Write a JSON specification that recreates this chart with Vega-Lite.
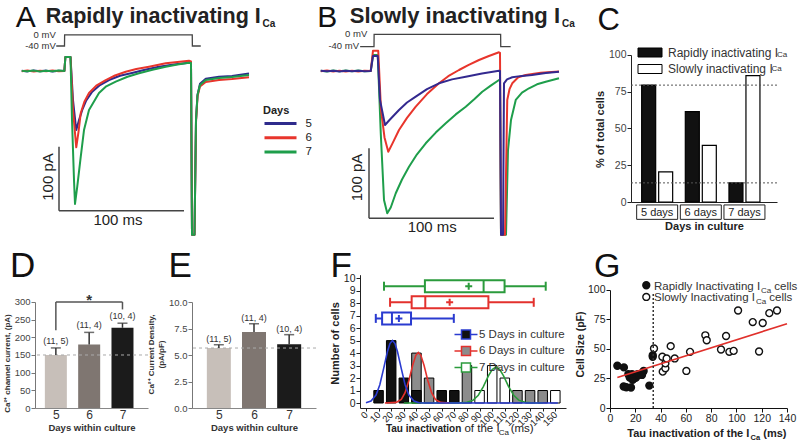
{
"$schema":"https://vega.github.io/schema/vega-lite/v6.json",
"background":"white",
"padding":{"left":3,"top":0,"right":0,"bottom":0},
"config":{"font":"Liberation Sans","view":{"stroke":null},"axis":{"grid":false,"labelOverlap":false,"labelFont":"Liberation Sans","titleFont":"Liberation Sans"},"legend":{"labelFont":"Liberation Sans","titleFont":"Liberation Sans"},"title":{"font":"Liberation Sans"},"text":{"font":"Liberation Sans"}},
"spacing":12,
"resolve":{"scale":{"fill":"independent","stroke":"independent","color":"independent","x":"independent","y":"independent"},"legend":{"fill":"independent","stroke":"independent"}},
"datasets":{
"tracesA":[
{"day":"5","t":-34.6,"i":0.5},{"day":"5","t":-30,"i":-0.6},{"day":"5","t":-25,"i":0.8},{"day":"5","t":-20,"i":-0.5},{"day":"5","t":-15,"i":0.6},{"day":"5","t":-10,"i":-0.7},{"day":"5","t":-5,"i":0.4},{"day":"5","t":-0.5,"i":0},{"day":"5","t":0.3,"i":21.9},{"day":"5","t":4.4,"i":21.9},
{"day":"5","t":6.4,"i":-45.3},{"day":"5","t":9.0,"i":-92.2},{"day":"5","t":11,"i":-78},{"day":"5","t":13.8,"i":-60.9},{"day":"5","t":17,"i":-46},{"day":"5","t":21.8,"i":-32.3},{"day":"5","t":28,"i":-22},{"day":"5","t":35.2,"i":-14.1},{"day":"5","t":44,"i":-7.5},{"day":"5","t":53.6,"i":-3.1},{"day":"5","t":64,"i":2},{"day":"5","t":75.2,"i":6.7},{"day":"5","t":87,"i":10},{"day":"5","t":99.2,"i":13},{"day":"5","t":100.8,"i":12.5},{"day":"5","t":101.6,"i":-256},{"day":"5","t":103.6,"i":-256},{"day":"5","t":104.8,"i":-76.6},{"day":"5","t":106,"i":-37.5},{"day":"5","t":108,"i":-20},{"day":"5","t":112.6,"i":-12},{"day":"5","t":123.2,"i":-9},{"day":"5","t":133.6,"i":-7.8},{"day":"5","t":147.2,"i":-3.9},
{"day":"6","t":-34.6,"i":-0.4},{"day":"6","t":-30,"i":0.7},{"day":"6","t":-25,"i":-0.6},{"day":"6","t":-20,"i":0.5},{"day":"6","t":-15,"i":-0.5},{"day":"6","t":-10,"i":0.6},{"day":"6","t":-5,"i":-0.4},{"day":"6","t":-0.5,"i":0},{"day":"6","t":0.3,"i":21.9},{"day":"6","t":4.4,"i":21.9},
{"day":"6","t":6.4,"i":-60.9},{"day":"6","t":9.0,"i":-119.2},{"day":"6","t":10.8,"i":-95},{"day":"6","t":12.6,"i":-65.6},{"day":"6","t":15.5,"i":-48},{"day":"6","t":19.2,"i":-34.4},{"day":"6","t":25,"i":-23},{"day":"6","t":32.6,"i":-14.1},{"day":"6","t":40,"i":-7},{"day":"6","t":48.6,"i":-1.1},{"day":"6","t":57,"i":3},{"day":"6","t":67.2,"i":6.7},{"day":"6","t":80.6,"i":12},{"day":"6","t":90,"i":14},{"day":"6","t":99.2,"i":16.1},{"day":"6","t":100.8,"i":15},{"day":"6","t":101.6,"i":-256},{"day":"6","t":103.6,"i":-256},{"day":"6","t":104.8,"i":-80},{"day":"6","t":106,"i":-40},{"day":"6","t":108,"i":-24},{"day":"6","t":112.6,"i":-17.2},{"day":"6","t":123.2,"i":-14},{"day":"6","t":133.6,"i":-12.5},{"day":"6","t":147.2,"i":-9.8},
{"day":"7","t":-34.6,"i":0.2},{"day":"7","t":-30,"i":-0.5},{"day":"7","t":-25,"i":0.6},{"day":"7","t":-20,"i":-0.7},{"day":"7","t":-15,"i":0.4},{"day":"7","t":-10,"i":-0.3},{"day":"7","t":-5,"i":0.6},{"day":"7","t":-0.5,"i":0},{"day":"7","t":0.3,"i":21.9},{"day":"7","t":4.4,"i":21.9},
{"day":"7","t":5.6,"i":-76.6},{"day":"7","t":7.2,"i":-170.3},{"day":"7","t":8.0,"i":-207.8},{"day":"7","t":9.8,"i":-180.8},{"day":"7","t":12.6,"i":-133.9},{"day":"7","t":15.2,"i":-92.2},{"day":"7","t":19.2,"i":-60.9},{"day":"7","t":27.2,"i":-34.4},{"day":"7","t":33,"i":-24},{"day":"7","t":40.6,"i":-16.7},{"day":"7","t":50,"i":-9},{"day":"7","t":59.2,"i":-3.6},{"day":"7","t":70,"i":2},{"day":"7","t":80.6,"i":6.7},{"day":"7","t":90,"i":10},{"day":"7","t":99.2,"i":13},{"day":"7","t":100.8,"i":12.5},{"day":"7","t":101.6,"i":-256},{"day":"7","t":103.6,"i":-256},{"day":"7","t":104.8,"i":-76.6},{"day":"7","t":106,"i":-37.5},{"day":"7","t":108,"i":-21.9},{"day":"7","t":112.6,"i":-14.1},{"day":"7","t":123.2,"i":-10.9},{"day":"7","t":133.6,"i":-9.4},{"day":"7","t":147.2,"i":-6.3}
],
"protA":[{"t":-7.0,"i":39.1},{"t":-0.4,"i":39.1},{"t":-0.3,"i":56.3},{"t":101.8,"i":56.3},{"t":101.9,"i":39.1},{"t":108.6,"i":39.1}],
"tracesB":[
{"day":"7","t":-41,"i":0.5},{"day":"7","t":-36,"i":-0.6},{"day":"7","t":-31,"i":0.7},{"day":"7","t":-26,"i":-0.5},{"day":"7","t":-21,"i":0.6},{"day":"7","t":-16,"i":-0.4},{"day":"7","t":-11,"i":0.6},{"day":"7","t":-6,"i":-0.5},{"day":"7","t":-1,"i":0},
{"day":"7","t":0.8,"i":22.9},{"day":"7","t":4.6,"i":22.9},{"day":"7","t":7,"i":-88.6},{"day":"7","t":9.6,"i":-184.3},{"day":"7","t":12.2,"i":-203.3},{"day":"7","t":15,"i":-195},{"day":"7","t":19,"i":-174.7},{"day":"7","t":24,"i":-155},{"day":"7","t":29.6,"i":-136.7},{"day":"7","t":36,"i":-119},{"day":"7","t":43,"i":-103.3},{"day":"7","t":51,"i":-88},{"day":"7","t":59,"i":-74.7},{"day":"7","t":67,"i":-62},{"day":"7","t":75,"i":-51},{"day":"7","t":82,"i":-40},{"day":"7","t":88.2,"i":-29.6},{"day":"7","t":95,"i":-21},{"day":"7","t":101.6,"i":-12.9},{"day":"7","t":102.4,"i":-12},{"day":"7","t":103.2,"i":-234},{"day":"7","t":107.2,"i":-234},{"day":"7","t":108.8,"i":-113},{"day":"7","t":111.2,"i":-70},{"day":"7","t":115,"i":-41.4},{"day":"7","t":120,"i":-31},{"day":"7","t":125.6,"i":-24.7},{"day":"7","t":132,"i":-19},{"day":"7","t":139,"i":-15.3},{"day":"7","t":149.6,"i":-10.4},
{"day":"6","t":-41,"i":-0.5},{"day":"6","t":-36,"i":0.6},{"day":"6","t":-31,"i":-0.7},{"day":"6","t":-26,"i":0.5},{"day":"6","t":-21,"i":-0.6},{"day":"6","t":-16,"i":0.4},{"day":"6","t":-11,"i":-0.6},{"day":"6","t":-6,"i":0.5},{"day":"6","t":-1,"i":0},
{"day":"6","t":0.8,"i":29},{"day":"6","t":5,"i":29},{"day":"6","t":7.2,"i":-55.7},{"day":"6","t":10,"i":-95},{"day":"6","t":13,"i":-115.3},{"day":"6","t":16.5,"i":-103},{"day":"6","t":21.6,"i":-84.3},{"day":"6","t":28,"i":-67},{"day":"6","t":35,"i":-51},{"day":"6","t":44,"i":-33},{"day":"6","t":53.6,"i":-17.6},{"day":"6","t":61,"i":-7.5},{"day":"6","t":69.6,"i":1.4},{"day":"6","t":77,"i":8.5},{"day":"6","t":85.6,"i":15.7},{"day":"6","t":93,"i":21},{"day":"6","t":101.6,"i":26.7},{"day":"6","t":102.4,"i":26},{"day":"6","t":103.2,"i":-234},{"day":"6","t":106.4,"i":-234},{"day":"6","t":108.2,"i":-41.4},{"day":"6","t":110,"i":-26},{"day":"6","t":112.2,"i":-17.6},{"day":"6","t":117,"i":-9},{"day":"6","t":123,"i":-5.7},{"day":"6","t":135,"i":-2.5},{"day":"6","t":149.6,"i":-0.7},
{"day":"5","t":-41,"i":0.2},{"day":"5","t":-36,"i":-0.4},{"day":"5","t":-31,"i":0.5},{"day":"5","t":-26,"i":-0.6},{"day":"5","t":-21,"i":0.4},{"day":"5","t":-16,"i":-0.5},{"day":"5","t":-11,"i":0.4},{"day":"5","t":-6,"i":-0.3},{"day":"5","t":-1,"i":0},
{"day":"5","t":0.8,"i":21.4},{"day":"5","t":4.6,"i":21.4},{"day":"5","t":6.4,"i":-41.4},{"day":"5","t":10.4,"i":-77.1},{"day":"5","t":14,"i":-70},{"day":"5","t":21.6,"i":-55.7},{"day":"5","t":28,"i":-45},{"day":"5","t":35,"i":-36.7},{"day":"5","t":44,"i":-26},{"day":"5","t":53.6,"i":-17.6},{"day":"5","t":64,"i":-12},{"day":"5","t":75,"i":-8.1},{"day":"5","t":88,"i":-3.5},{"day":"5","t":101.6,"i":0.4},{"day":"5","t":102.4,"i":0},{"day":"5","t":103.2,"i":-234},{"day":"5","t":104.8,"i":-234},{"day":"5","t":105.6,"i":-17.6},{"day":"5","t":108,"i":-12},{"day":"5","t":112.2,"i":-9},{"day":"5","t":120,"i":-7},{"day":"5","t":128,"i":-5.7},{"day":"5","t":139,"i":-3},{"day":"5","t":149.6,"i":-1}
],
"protB":[{"t":-9.5,"i":34.7},{"t":1.6,"i":34.7},{"t":1.7,"i":52.4},{"t":102.9,"i":52.4},{"t":103.0,"i":34.7},{"t":110.9,"i":34.7}],
"pctC":[{"day":"5 days","type":"Rapidly inactivating","pct":79.5},{"day":"5 days","type":"Slowly inactivating","pct":20.5},{"day":"6 days","type":"Rapidly inactivating","pct":61.5},{"day":"6 days","type":"Slowly inactivating","pct":38.5},{"day":"7 days","type":"Rapidly inactivating","pct":13},{"day":"7 days","type":"Slowly inactivating","pct":86}],
"daysC":[{"day":"5 days"},{"day":"6 days"},{"day":"7 days"}],
"curD":[{"day":5,"mean":150,"upper":170,"n":"(11, 5)"},{"day":6,"mean":180,"upper":214,"n":"(11, 4)"},{"day":7,"mean":227,"upper":240,"n":"(10, 4)"}],
"denE":[{"day":5,"mean":5.66,"upper":5.97,"n":"(11, 5)"},{"day":6,"mean":7.17,"upper":7.95,"n":"(11, 4)"},{"day":7,"mean":6.01,"upper":6.92,"n":"(10, 4)"}],
"histF":[
{"group":"6 Days in culture","tau":40,"n":4},{"group":"6 Days in culture","tau":50,"n":2},{"group":"6 Days in culture","tau":80,"n":3},{"group":"6 Days in culture","tau":120,"n":1},{"group":"6 Days in culture","tau":130,"n":1},{"group":"6 Days in culture","tau":140,"n":1},
{"group":"7 Days in culture","tau":90,"n":1},{"group":"7 Days in culture","tau":100,"n":3},{"group":"7 Days in culture","tau":110,"n":2},{"group":"7 Days in culture","tau":150,"n":1},
{"group":"5 Days in culture","tau":10,"n":1},{"group":"5 Days in culture","tau":20,"n":5},{"group":"5 Days in culture","tau":30,"n":2},{"group":"5 Days in culture","tau":40,"n":1},{"group":"5 Days in culture","tau":60,"n":1},{"group":"5 Days in culture","tau":70,"n":1}
],
"gaussF":[
{"group":"7 Days in culture","tau":30,"n":0},{"group":"7 Days in culture","tau":70,"n":0},{"group":"7 Days in culture","tau":75,"n":0.01},{"group":"7 Days in culture","tau":80,"n":0.05},{"group":"7 Days in culture","tau":85,"n":0.23},{"group":"7 Days in culture","tau":89,"n":0.62},{"group":"7 Days in culture","tau":93,"n":1.32},{"group":"7 Days in culture","tau":97,"n":2.17},{"group":"7 Days in culture","tau":100,"n":2.68},{"group":"7 Days in culture","tau":103,"n":2.88},{"group":"7 Days in culture","tau":106,"n":2.68},{"group":"7 Days in culture","tau":109,"n":2.17},{"group":"7 Days in culture","tau":113,"n":1.32},{"group":"7 Days in culture","tau":117,"n":0.62},{"group":"7 Days in culture","tau":121,"n":0.23},{"group":"7 Days in culture","tau":126,"n":0.05},{"group":"7 Days in culture","tau":131,"n":0.01},{"group":"7 Days in culture","tau":140,"n":0},
{"group":"6 Days in culture","tau":15,"n":0},{"group":"6 Days in culture","tau":24,"n":0.05},{"group":"6 Days in culture","tau":28,"n":0.29},{"group":"6 Days in culture","tau":31,"n":0.83},{"group":"6 Days in culture","tau":34,"n":1.8},{"group":"6 Days in culture","tau":37,"n":3.03},{"group":"6 Days in culture","tau":39.5,"n":3.82},{"group":"6 Days in culture","tau":41.5,"n":4.05},{"group":"6 Days in culture","tau":43.5,"n":3.82},{"group":"6 Days in culture","tau":46,"n":3.03},{"group":"6 Days in culture","tau":49,"n":1.8},{"group":"6 Days in culture","tau":52,"n":0.83},{"group":"6 Days in culture","tau":55,"n":0.29},{"group":"6 Days in culture","tau":59,"n":0.05},{"group":"6 Days in culture","tau":66,"n":0},
{"group":"5 Days in culture","tau":0,"n":0.02},{"group":"5 Days in culture","tau":4,"n":0.15},{"group":"5 Days in culture","tau":8,"n":0.64},{"group":"5 Days in culture","tau":11,"n":1.47},{"group":"5 Days in culture","tau":14,"n":2.75},{"group":"5 Days in culture","tau":17,"n":4.11},{"group":"5 Days in culture","tau":19,"n":4.76},{"group":"5 Days in culture","tau":21,"n":5},{"group":"5 Days in culture","tau":23,"n":4.76},{"group":"5 Days in culture","tau":25,"n":4.11},{"group":"5 Days in culture","tau":28,"n":2.75},{"group":"5 Days in culture","tau":31,"n":1.47},{"group":"5 Days in culture","tau":34,"n":0.64},{"group":"5 Days in culture","tau":38,"n":0.15},{"group":"5 Days in culture","tau":42,"n":0.02},{"group":"5 Days in culture","tau":46,"n":0},{"group":"5 Days in culture","tau":152,"n":0}
],
"boxF":[
{"group":"7 Days in culture","lo":14.3,"q1":46.7,"med":93.2,"q3":109.8,"hi":142.4,"mean":81.4,"row":9.36},
{"group":"6 Days in culture","lo":19.1,"q1":36.2,"med":47,"q3":97,"hi":132.9,"mean":66.3,"row":8.07},
{"group":"5 Days in culture","lo":7.8,"q1":12.8,"med":20.6,"q3":35.7,"hi":69.6,"mean":26.1,"row":6.78}
],
"pointsG":[
{"type":"Rapidly","tau":5.8,"size":35.8},{"type":"Rapidly","tau":11,"size":34.4},{"type":"Rapidly","tau":10.8,"size":18.2},{"type":"Rapidly","tau":12.9,"size":17.6},{"type":"Rapidly","tau":14.5,"size":28.6},{"type":"Rapidly","tau":15.6,"size":25.8},{"type":"Rapidly","tau":16.6,"size":17.4},{"type":"Rapidly","tau":17.4,"size":28.6},{"type":"Rapidly","tau":17.9,"size":26.6},{"type":"Rapidly","tau":19.2,"size":25.2},{"type":"Rapidly","tau":19.8,"size":28},{"type":"Rapidly","tau":20.6,"size":25.8},{"type":"Rapidly","tau":21.9,"size":28.6},{"type":"Rapidly","tau":17.9,"size":23.8},{"type":"Rapidly","tau":25.8,"size":30},{"type":"Rapidly","tau":25.3,"size":28},{"type":"Rapidly","tau":26.6,"size":31.4},{"type":"Rapidly","tau":31.1,"size":19},{"type":"Rapidly","tau":33.8,"size":43.4},{"type":"Rapidly","tau":33.8,"size":44.8},
{"type":"Slowly","tau":34.8,"size":50.4},{"type":"Slowly","tau":41.4,"size":43.4},{"type":"Slowly","tau":41.7,"size":30.8},{"type":"Slowly","tau":43.8,"size":33.6},{"type":"Slowly","tau":43.8,"size":37.8},{"type":"Slowly","tau":44.8,"size":42},{"type":"Slowly","tau":48,"size":52.4},{"type":"Slowly","tau":51.2,"size":42},{"type":"Slowly","tau":60.4,"size":31.4},{"type":"Slowly","tau":63.3,"size":47.6},{"type":"Slowly","tau":75.4,"size":61.6},{"type":"Slowly","tau":76.5,"size":57.4},{"type":"Slowly","tau":87.8,"size":49.6},{"type":"Slowly","tau":91.8,"size":61},{"type":"Slowly","tau":94.4,"size":47.6},{"type":"Slowly","tau":97.8,"size":48.4},{"type":"Slowly","tau":101.3,"size":82.6},{"type":"Slowly","tau":112.9,"size":72.8},{"type":"Slowly","tau":117.9,"size":47.9},{"type":"Slowly","tau":120.8,"size":72},{"type":"Slowly","tau":126,"size":80.4},{"type":"Slowly","tau":132.1,"size":82.6}
],
"fitG":[{"tau":5.8,"size":25.8},{"tau":140,"size":71.4}]
},
"vconcat":[
{"hconcat":[
{"width":271,"height":235,"data":{"values":[{}]},
"layer":[
{"data":{"name":"tracesA"},"mark":{"type":"line","strokeWidth":2,"strokeJoin":"round"},
"encoding":{"x":{"field":"t","type":"quantitative","scale":{"domain":[-24,192.8],"nice":false,"zero":false},"axis":null},
"y":{"field":"i","type":"quantitative","scale":{"domain":[-256.25,110.94],"nice":false,"zero":false},"axis":null},
"stroke":{"field":"day","type":"nominal","scale":{"domain":["5","6","7"],"range":["#2f2b8c","#e8352c","#1e9e4b"]},"legend":{"title":"Days","orient":"none","legendX":228,"legendY":105,"symbolType":"M-1,0H5.4","symbolSize":100,"symbolStrokeWidth":3,"labelFontSize":11.5,"labelOffset":29.5,"titleFontSize":11,"titleFontWeight":"bold","titlePadding":1,"rowPadding":1.3,"labelColor":"#222","titleColor":"#222"}}}},
{"data":{"name":"protA"},"mark":{"type":"line","color":"#444","strokeWidth":1.3},"encoding":{"x":{"field":"t","type":"quantitative","axis":null},"y":{"field":"i","type":"quantitative","axis":null}}},
{"mark":{"type":"rule","color":"#444","strokeWidth":1.5},"encoding":{"x":{"datum":-4.8,"axis":null},"y":{"datum":-118.3,"axis":null},"y2":{"datum":-218.3}}},
{"mark":{"type":"rule","color":"#444","strokeWidth":1.5},"encoding":{"x":{"datum":-4.8,"axis":null},"x2":{"datum":95.2},"y":{"datum":-218.3,"axis":null}}},
{"mark":{"type":"text","text":"A","fontSize":30,"align":"left","baseline":"alphabetic","color":"#111"},"encoding":{"x":{"datum":-39.4,"axis":null},"y":{"datum":69.5,"axis":null}}},
{"mark":{"type":"text","text":"Rapidly inactivating I","fontSize":21.5,"fontWeight":"bold","align":"left","baseline":"alphabetic","color":"#222"},"encoding":{"x":{"datum":-15.4,"axis":null},"y":{"datum":74.5,"axis":null}}},
{"mark":{"type":"text","text":"Ca","fontSize":10,"fontWeight":"bold","align":"left","baseline":"alphabetic","color":"#222"},"encoding":{"x":{"datum":158,"axis":null},"y":{"datum":68.75,"axis":null}}},
{"mark":{"type":"text","text":"0 mV","fontSize":9.5,"align":"right","baseline":"alphabetic","color":"#333"},"encoding":{"x":{"datum":-7.4,"axis":null},"y":{"datum":51.6,"axis":null}}},
{"mark":{"type":"text","text":"-40 mV","fontSize":9.5,"align":"right","baseline":"alphabetic","color":"#333"},"encoding":{"x":{"datum":-7.4,"axis":null},"y":{"datum":34.4,"axis":null}}},
{"mark":{"type":"text","text":"100 pA","fontSize":15,"angle":270,"align":"center","baseline":"middle","color":"#222"},"encoding":{"x":{"datum":-13.6,"axis":null},"y":{"datum":-165.6,"axis":null}}},
{"mark":{"type":"text","text":"100 ms","fontSize":15,"align":"center","baseline":"middle","color":"#222"},"encoding":{"x":{"datum":42.4,"axis":null},"y":{"datum":-232.8,"axis":null}}}
]},
{"width":305,"height":235,"data":{"values":[{}]},
"layer":[
{"data":{"name":"tracesB"},"mark":{"type":"line","strokeWidth":2,"strokeJoin":"round"},
"encoding":{"x":{"field":"t","type":"quantitative","scale":{"domain":[-44.8,199.2],"nice":false,"zero":false},"axis":null},
"y":{"field":"i","type":"quantitative","scale":{"domain":[-234.3,101.4],"nice":false,"zero":false},"axis":null},
"stroke":{"field":"day","type":"nominal","scale":{"domain":["5","6","7"],"range":["#33298f","#e8352c","#1e9e4b"]},"legend":null}}},
{"data":{"name":"protB"},"mark":{"type":"line","color":"#444","strokeWidth":1.3},"encoding":{"x":{"field":"t","type":"quantitative","axis":null},"y":{"field":"i","type":"quantitative","axis":null}}},
{"mark":{"type":"rule","color":"#444","strokeWidth":1.5},"encoding":{"x":{"datum":-2.4,"axis":null},"y":{"datum":-110.4,"axis":null},"y2":{"datum":-210.4}}},
{"mark":{"type":"rule","color":"#444","strokeWidth":1.5},"encoding":{"x":{"datum":-2.4,"axis":null},"x2":{"datum":97.6},"y":{"datum":-210.4,"axis":null}}},
{"mark":{"type":"text","text":"B","fontSize":30,"align":"left","baseline":"alphabetic","color":"#111"},"encoding":{"x":{"datum":-43.8,"axis":null},"y":{"datum":63.4,"axis":null}}},
{"mark":{"type":"text","text":"Slowly inactivating I","fontSize":22,"fontWeight":"bold","align":"left","baseline":"alphabetic","color":"#222"},"encoding":{"x":{"datum":-17.8,"axis":null},"y":{"datum":68.1,"axis":null}}},
{"mark":{"type":"text","text":"Ca","fontSize":10,"fontWeight":"bold","align":"left","baseline":"alphabetic","color":"#222"},"encoding":{"x":{"datum":152,"axis":null},"y":{"datum":62.9,"axis":null}}},
{"mark":{"type":"text","text":"0 mV","fontSize":9.5,"align":"right","baseline":"alphabetic","color":"#333"},"encoding":{"x":{"datum":-3.8,"axis":null},"y":{"datum":48.1,"axis":null}}},
{"mark":{"type":"text","text":"-40 mV","fontSize":9.5,"align":"right","baseline":"alphabetic","color":"#333"},"encoding":{"x":{"datum":-10.4,"axis":null},"y":{"datum":31.4,"axis":null}}},
{"mark":{"type":"text","text":"100 pA","fontSize":15,"angle":270,"align":"center","baseline":"middle","color":"#222"},"encoding":{"x":{"datum":-12,"axis":null},"y":{"datum":-152.1,"axis":null}}},
{"mark":{"type":"text","text":"100 ms","fontSize":15,"align":"center","baseline":"middle","color":"#222"},"encoding":{"x":{"datum":48.2,"axis":null},"y":{"datum":-222.9,"axis":null}}}
]},
{"width":146,"height":202,"data":{"values":[{}]},
"layer":[
{"data":{"name":"pctC"},"mark":{"type":"bar","stroke":"#000","strokeWidth":1.2},
"encoding":{"x":{"field":"day","type":"nominal","scale":{"domain":["5 days","6 days","7 days"],"paddingInner":0.061,"paddingOuter":0.203,"align":0.32},"axis":{"title":"Days in culture","titleFontSize":11,"titleFontWeight":"bold","titleColor":"#222","titlePadding":3,"labelFontSize":11,"labelAngle":0,"labelColor":"#222","labelPadding":4.5,"labelOverlap":false,"ticks":false,"tickSize":0,"domainColor":"#222"}},
"xOffset":{"field":"type","type":"nominal","scale":{"domain":["Rapidly inactivating","Slowly inactivating"],"paddingInner":0.176,"paddingOuter":0.294}},
"y":{"field":"pct","type":"quantitative","scale":{"domain":[0,137.4],"nice":false,"zero":false},"axis":{"values":[0,25,50,75,100],"tickCount":30,"title":"% of total cells","titleFontSize":11,"titleFontWeight":"bold","titleColor":"#222","titleY":129,"titlePadding":3,"labelFontSize":10.5,"labelColor":"#444","labelPadding":1,"labelOverlap":false,"labelBound":false,"tickSize":4,"tickColor":"#222","domainColor":"#222","domainDash":[147,1000]}},
"fill":{"field":"type","type":"nominal","scale":{"domain":["Rapidly inactivating","Slowly inactivating"],"range":["#111111","#ffffff"]},"legend":{"title":null,"orient":"none","legendX":13,"legendY":46.5,"symbolType":"M-2.4,-0.9H2.4V0.9H-2.4Z","symbolSize":100,"symbolStrokeColor":"#000","symbolStrokeWidth":1,"labelFontSize":12,"labelOffset":12,"rowPadding":2.5,"labelExpr":"datum.label + ' I'","labelColor":"#333"}}}},
{"data":{"values":[{"ref":79.5},{"ref":13}]},"mark":{"type":"rule","strokeDash":[2,2],"color":"#555","strokeWidth":1},"encoding":{"y":{"field":"ref","type":"quantitative"}}},
{"data":{"name":"daysC"},"mark":{"type":"rect","filled":false,"color":"#222","strokeWidth":1},"encoding":{"x":{"field":"day","type":"nominal"},"y":{"datum":-2},"y2":{"datum":-11.8}}},
{"mark":{"type":"text","text":"Ca","fontSize":8,"align":"left","baseline":"alphabetic","dx":12,"color":"#333"},"encoding":{"x":{"datum":"7 days","bandPosition":1},"y":{"datum":98.6}}},
{"mark":{"type":"text","text":"Ca","fontSize":8,"align":"left","baseline":"alphabetic","dx":6.5,"color":"#333"},"encoding":{"x":{"datum":"7 days","bandPosition":1},"y":{"datum":88.8}}},
{"mark":{"type":"text","text":"C","fontSize":31,"align":"left","baseline":"alphabetic","dx":-39.2,"color":"#111"},"encoding":{"x":{"datum":"5 days","bandPosition":0},"y":{"datum":116.9}}}
]}
],"spacing":10,"bounds":"flush","resolve":{"scale":{"fill":"independent","stroke":"independent","color":"independent","x":"independent","y":"independent"},"legend":{"fill":"independent","stroke":"independent"}}},
{"hconcat":[
{"width":113,"height":156,"data":{"name":"curD"},
"layer":[
{"mark":{"type":"bar","orient":"vertical","width":22},"encoding":{
"x":{"field":"day","type":"quantitative","scale":{"domain":[4.524,7.616],"nice":false,"zero":false},"axis":{"values":[5,6,7],"tickCount":30,"format":"d","title":"Days within culture","titleFontSize":9.5,"titleFontWeight":"bold","titleColor":"#333","titlePadding":2.5,"labelFontSize":12,"labelAngle":0,"labelColor":"#333","labelPadding":1,"labelOverlap":false,"labelBound":false,"labelFlush":false,"ticks":false,"tickSize":0,"domainColor":"#888"}},
"y":{"field":"mean","type":"quantitative","scale":{"domain":[0,441.5],"nice":false,"zero":false},"axis":{"values":[0,50,100,150,200,250,300],"tickCount":30,"format":"d","title":"Ca²⁺ channel current, (pA)","titleFontSize":8,"titleFontWeight":"bold","titleColor":"#333","titleY":111,"titlePadding":3,"labelFontSize":9.5,"labelColor":"#444","labelPadding":1,"labelOverlap":false,"labelBound":false,"labelFlush":false,"tickSize":4,"tickColor":"#777","domainColor":"#777","domainDash":[106,1000]}},
"fill":{"field":"day","type":"nominal","scale":{"domain":[5,6,7],"range":["#c7bfb9","#7f7671","#1b1b1b"]},"legend":null}}},
{"data":{"values":[{}]},"mark":{"type":"rule","strokeDash":[3,3],"color":"#aaaaaa","strokeWidth":1},"encoding":{"y":{"datum":150}}},
{"mark":{"type":"rule","color":"#333","strokeWidth":1.5},"encoding":{"x":{"field":"day","type":"quantitative"},"y":{"field":"mean","type":"quantitative"},"y2":{"field":"upper"}}},
{"mark":{"type":"tick","color":"#333","size":10,"thickness":1.5,"orient":"horizontal"},"encoding":{"x":{"field":"day","type":"quantitative"},"y":{"field":"upper","type":"quantitative"}}},
{"mark":{"type":"text","fontSize":9,"baseline":"bottom","dy":-2,"color":"#333"},"encoding":{"x":{"field":"day","type":"quantitative"},"y":{"field":"upper","type":"quantitative"},"text":{"field":"n"}}},
{"data":{"values":[{}]},"mark":{"type":"rule","color":"#555","strokeWidth":1.5},"encoding":{"x":{"datum":5},"x2":{"datum":7},"y":{"datum":300}}},
{"data":{"values":[{}]},"mark":{"type":"rule","color":"#555","strokeWidth":1.5},"encoding":{"x":{"datum":5},"y":{"datum":220},"y2":{"datum":300}}},
{"data":{"values":[{}]},"mark":{"type":"rule","color":"#555","strokeWidth":1.5},"encoding":{"x":{"datum":7},"y":{"datum":279},"y2":{"datum":300}}},
{"data":{"values":[{}]},"mark":{"type":"text","text":"*","fontSize":15,"fontWeight":"bold","color":"#333","baseline":"alphabetic","dy":3},"encoding":{"x":{"datum":6},"y":{"datum":300}}},
{"data":{"values":[{}]},"mark":{"type":"text","text":"D","fontSize":35,"align":"left","baseline":"alphabetic","color":"#111"},"encoding":{"x":{"datum":3.62},"y":{"datum":370.8}}}
]},
{"width":124,"height":156,"data":{"name":"denE"},
"layer":[
{"mark":{"type":"bar","orient":"vertical","width":24},"encoding":{
"x":{"field":"day","type":"quantitative","scale":{"domain":[4.379,7.621],"nice":false,"zero":false},"axis":{"values":[5,6,7],"tickCount":30,"format":"d","title":"Days within culture","titleFontSize":9.5,"titleFontWeight":"bold","titleColor":"#333","titlePadding":2.5,"labelFontSize":12,"labelAngle":0,"labelColor":"#333","labelPadding":1,"labelOverlap":false,"labelBound":false,"labelFlush":false,"ticks":false,"tickSize":0,"domainColor":"#888"}},
"y":{"field":"mean","type":"quantitative","scale":{"domain":[0,14.72],"nice":false,"zero":false},"axis":{"values":[0,2.5,5,7.5,10],"tickCount":30,"format":".1f","title":["Ca²⁺ Current Density,","(pA/pF)"],"titleFontSize":8,"titleFontWeight":"bold","titleColor":"#333","titleY":102,"titlePadding":3,"labelFontSize":9.5,"labelColor":"#444","labelPadding":1,"labelOverlap":false,"labelBound":false,"labelFlush":false,"tickSize":4,"tickColor":"#777","domainColor":"#777","domainDash":[106,1000]}},
"fill":{"field":"day","type":"nominal","scale":{"domain":[5,6,7],"range":["#c7bfb9","#7f7671","#1b1b1b"]},"legend":null}}},
{"data":{"values":[{}]},"mark":{"type":"rule","strokeDash":[3,3],"color":"#aaaaaa","strokeWidth":1},"encoding":{"y":{"datum":5.66}}},
{"mark":{"type":"rule","color":"#333","strokeWidth":1.5},"encoding":{"x":{"field":"day","type":"quantitative"},"y":{"field":"mean","type":"quantitative"},"y2":{"field":"upper"}}},
{"mark":{"type":"tick","color":"#333","size":10,"thickness":1.5,"orient":"horizontal"},"encoding":{"x":{"field":"day","type":"quantitative"},"y":{"field":"upper","type":"quantitative"}}},
{"mark":{"type":"text","fontSize":9,"baseline":"bottom","dy":-1,"color":"#333"},"encoding":{"x":{"field":"day","type":"quantitative"},"y":{"field":"upper","type":"quantitative"},"text":{"field":"n"}}},
{"data":{"values":[{}]},"mark":{"type":"text","text":"E","fontSize":35,"align":"left","baseline":"alphabetic","color":"#111"},"encoding":{"x":{"datum":3.569},"y":{"datum":12.36}}}
]},
{"width":206,"height":156,"data":{"values":[{}]},
"layer":[
{"data":{"name":"histF"},"mark":{"type":"bar","orient":"vertical","stroke":"#000","strokeWidth":1,"width":9.5},
"encoding":{"x":{"field":"tau","type":"quantitative","scale":{"domain":[-0.75,154.5],"nice":false,"zero":false},"axis":{"values":[0,10,20,30,40,50,60,70,80,90,100,110,120,130,140,150],"tickCount":30,"format":"d","labelAngle":-45,"labelAlign":"right","labelBaseline":"middle","labelFontSize":9.5,"labelColor":"#222","labelPadding":2,"labelOverlap":false,"labelBound":false,"labelFlush":false,"tickSize":3,"title":null,"domainColor":"#222","tickColor":"#222"}},
"y":{"field":"n","type":"quantitative","stack":null,"scale":{"domain":[0,11.7],"nice":false,"zero":false},"axis":{"values":[0,1,2,3,4,5,6,7,8,9,10],"tickCount":30,"format":"d","title":"Number of cells","titleFontSize":11,"titleFontWeight":"bold","titleColor":"#222","titleY":91,"titlePadding":3,"labelFontSize":10.5,"labelColor":"#222","labelPadding":1,"labelOverlap":false,"labelBound":false,"labelFlush":false,"tickSize":4,"tickColor":"#222","domainColor":"#222","domainDash":[133.3,1000]}},
"fill":{"field":"group","type":"nominal","scale":{"domain":["5 Days in culture","6 Days in culture","7 Days in culture"],"range":["#111111","#8c8c8c","#ffffff"]},"legend":{"title":null,"orient":"none","legendX":100,"legendY":76.5,"symbolType":"M-2.3,0H-0.9M0.9,0H2.3M-0.9,-0.9H0.9V0.9H-0.9Z","symbolSize":100,"symbolStrokeWidth":1.5,"labelFontSize":11.5,"labelOffset":7,"rowPadding":0.5,"labelColor":"#333"}}}},
{"data":{"name":"gaussF"},"mark":{"type":"line","strokeWidth":1.6},"encoding":{"x":{"field":"tau","type":"quantitative"},"y":{"field":"n","type":"quantitative"},"stroke":{"field":"group","type":"nominal","scale":{"domain":["5 Days in culture","6 Days in culture","7 Days in culture"],"range":["#2a3bd0","#e3312d","#2b9b3c"]},"legend":{"title":null,"orient":"none","legendX":100,"legendY":76.5,"symbolType":"M-2.3,0H-0.9M0.9,0H2.3M-0.9,-0.9H0.9V0.9H-0.9Z","symbolSize":100,"symbolStrokeWidth":1.5,"labelFontSize":11.5,"labelOffset":7,"rowPadding":0.5,"labelColor":"#333"}}}},
{"data":{"name":"boxF"},"mark":{"type":"rule","strokeWidth":2},"encoding":{"x":{"field":"lo","type":"quantitative"},"x2":{"field":"hi"},"y":{"field":"row","type":"quantitative"},"stroke":{"field":"group","type":"nominal"}}},
{"data":{"name":"boxF"},"mark":{"type":"point","shape":"M0,-1V1","size":81,"strokeWidth":2,"filled":false,"opacity":1},"encoding":{"x":{"field":"lo","type":"quantitative"},"y":{"field":"row","type":"quantitative"},"stroke":{"field":"group","type":"nominal"}}},
{"data":{"name":"boxF"},"mark":{"type":"point","shape":"M0,-1V1","size":81,"strokeWidth":2,"filled":false,"opacity":1},"encoding":{"x":{"field":"hi","type":"quantitative"},"y":{"field":"row","type":"quantitative"},"stroke":{"field":"group","type":"nominal"}}},
{"data":{"name":"boxF"},"mark":{"type":"bar","orient":"horizontal","height":12,"fill":"#ffffff","strokeWidth":2},"encoding":{"x":{"field":"q1","type":"quantitative"},"x2":{"field":"q3"},"y":{"field":"row","type":"quantitative"},"stroke":{"field":"group","type":"nominal"}}},
{"data":{"name":"boxF"},"mark":{"type":"point","shape":"M0,-1V1","size":144,"strokeWidth":2,"filled":false,"opacity":1},"encoding":{"x":{"field":"med","type":"quantitative"},"y":{"field":"row","type":"quantitative"},"stroke":{"field":"group","type":"nominal"}}},
{"data":{"name":"boxF"},"mark":{"type":"point","shape":"M-1,0H1M0,-1V1","size":49,"strokeWidth":2,"filled":false,"opacity":1},"encoding":{"x":{"field":"mean","type":"quantitative"},"y":{"field":"row","type":"quantitative"},"stroke":{"field":"group","type":"nominal"}}},
{"mark":{"type":"text","text":"Tau inactivation","fontSize":10,"fontWeight":"bold","align":"left","baseline":"alphabetic","color":"#222"},"encoding":{"x":{"datum":15.8},"y":{"datum":-2.33}}},
{"mark":{"type":"text","text":"of the I","fontSize":11.5,"align":"left","baseline":"alphabetic","color":"#222"},"encoding":{"x":{"datum":78},"y":{"datum":-2.33}}},
{"mark":{"type":"text","text":"Ca","fontSize":8,"align":"left","baseline":"alphabetic","color":"#222"},"encoding":{"x":{"datum":105.1},"y":{"datum":-2.56}}},
{"mark":{"type":"text","text":"(ms)","fontSize":11.5,"align":"left","baseline":"alphabetic","color":"#222"},"encoding":{"x":{"datum":114.6},"y":{"datum":-2.33}}},
{"mark":{"type":"text","text":"F","fontSize":35,"align":"left","baseline":"alphabetic","color":"#111"},"encoding":{"x":{"datum":-28},"y":{"datum":10.1}}}
]},
{"width":177,"height":156,"data":{"values":[{}]},
"layer":[
{"data":{"name":"pointsG"},"mark":{"type":"point","shape":"circle","size":48,"filled":true,"stroke":"#111","strokeWidth":1.4,"opacity":1},
"encoding":{"x":{"field":"tau","type":"quantitative","scale":{"domain":[0,140],"nice":false,"zero":false},"axis":{"values":[0,20,40,60,80,100,120,140],"tickCount":30,"format":"d","title":null,"labelFontSize":10.5,"labelColor":"#222","tickSize":4,"labelPadding":1,"labelOverlap":false,"labelBound":false,"labelFlush":false,"domainColor":"#111","tickColor":"#111"}},
"y":{"field":"size","type":"quantitative","scale":{"domain":[0,132.2],"nice":false,"zero":false},"axis":{"values":[0,25,50,75,100],"tickCount":30,"format":"d","title":"Cell Size (pF)","titleFontSize":10.5,"titleFontWeight":"bold","titleColor":"#222","titleY":92,"titlePadding":2,"labelFontSize":10.5,"labelColor":"#222","tickSize":4,"labelPadding":1,"labelOverlap":false,"labelBound":false,"labelFlush":false,"domainColor":"#111","tickColor":"#111","domainDash":[118,1000]}},
"fill":{"field":"type","type":"nominal","scale":{"domain":["Rapidly","Slowly"],"range":["#111111","#ffffff"]},"legend":null}}},
{"data":{"name":"fitG"},"mark":{"type":"line","color":"#e0302b","strokeWidth":1.6},"encoding":{"x":{"field":"tau","type":"quantitative"},"y":{"field":"size","type":"quantitative"}}},
{"mark":{"type":"rule","strokeDash":[2,2],"color":"#333","strokeWidth":1.5},"encoding":{"x":{"datum":34.2},"y":{"datum":0},"y2":{"datum":97}}},
{"mark":{"type":"point","shape":"circle","size":48,"filled":true,"fill":"#111","stroke":"#111","strokeWidth":1.4,"opacity":1},"encoding":{"x":{"datum":28.7},"y":{"datum":104}}},
{"mark":{"type":"point","shape":"circle","size":48,"filled":true,"fill":"#fff","stroke":"#111","strokeWidth":1.4,"opacity":1},"encoding":{"x":{"datum":28.7},"y":{"datum":94.1}}},
{"mark":{"type":"text","text":"Rapidly Inactivating I","fontSize":11.5,"align":"left","baseline":"alphabetic","color":"#333"},"encoding":{"x":{"datum":34.8},"y":{"datum":99.7}}},
{"mark":{"type":"text","text":"Ca","fontSize":8,"align":"left","baseline":"alphabetic","color":"#333"},"encoding":{"x":{"datum":119.5},"y":{"datum":97.6}}},
{"mark":{"type":"text","text":"cells","fontSize":11.5,"align":"left","baseline":"alphabetic","color":"#333"},"encoding":{"x":{"datum":129.9},"y":{"datum":99.7}}},
{"mark":{"type":"text","text":"Slowly Inactivating I","fontSize":11.5,"align":"left","baseline":"alphabetic","color":"#333"},"encoding":{"x":{"datum":34.8},"y":{"datum":90.4}}},
{"mark":{"type":"text","text":"Ca","fontSize":8,"align":"left","baseline":"alphabetic","color":"#333"},"encoding":{"x":{"datum":115.5},"y":{"datum":88.3}}},
{"mark":{"type":"text","text":"cells","fontSize":11.5,"align":"left","baseline":"alphabetic","color":"#333"},"encoding":{"x":{"datum":126},"y":{"datum":90.4}}},
{"mark":{"type":"text","text":"Tau inactivation of the I","fontSize":11,"fontWeight":"bold","align":"left","baseline":"alphabetic","color":"#222"},"encoding":{"x":{"datum":13.7},"y":{"datum":-24.6}}},
{"mark":{"type":"text","text":"Ca","fontSize":7.5,"fontWeight":"bold","align":"left","baseline":"alphabetic","color":"#222"},"encoding":{"x":{"datum":111.2},"y":{"datum":-27.1}}},
{"mark":{"type":"text","text":"(ms)","fontSize":11,"fontWeight":"bold","align":"left","baseline":"alphabetic","color":"#222"},"encoding":{"x":{"datum":121.2},"y":{"datum":-24.6}}},
{"mark":{"type":"text","text":"G","fontSize":34,"align":"left","baseline":"alphabetic","color":"#111"},"encoding":{"x":{"datum":-12.7},"y":{"datum":110.8}}}
]}
],"spacing":44,"bounds":"flush","resolve":{"scale":{"fill":"independent","stroke":"independent","color":"independent","x":"independent","y":"independent"},"legend":{"fill":"independent","stroke":"independent"}}}
]
}
